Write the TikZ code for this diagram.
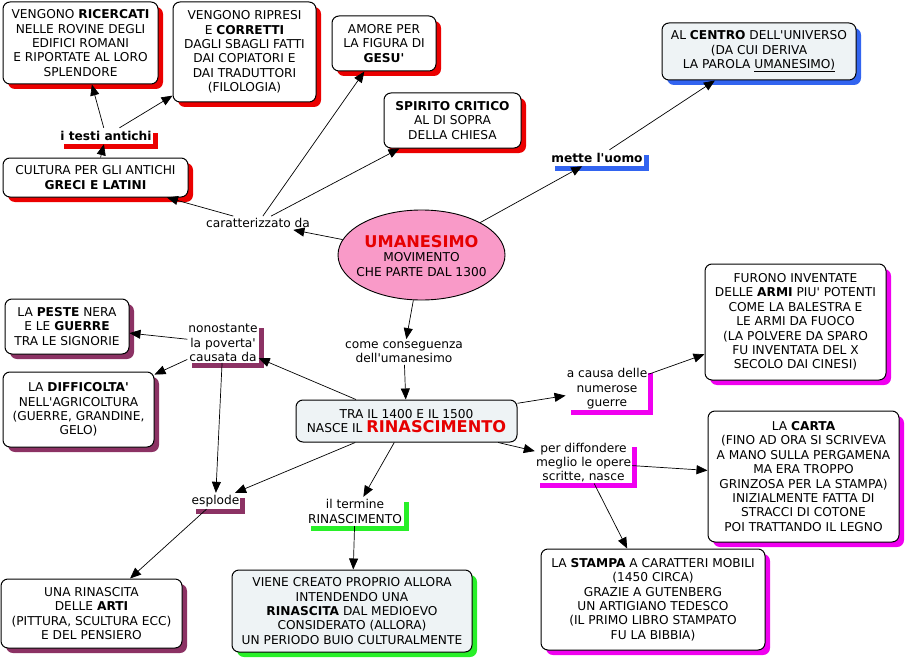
\documentclass[tikz,border=0pt]{standalone}
\usepackage{fontspec}
\setmainfont{DejaVu Sans}[Ligatures=TeXOff]
\usetikzlibrary{arrows.meta,shadows,shapes.geometric}
\definecolor{shred}{RGB}{235,0,0}
\definecolor{shpurple}{RGB}{140,50,100}
\definecolor{shgreen}{RGB}{40,240,40}
\definecolor{shmagenta}{RGB}{240,0,240}
\definecolor{shblue}{RGB}{50,100,240}
\definecolor{lightfill}{RGB}{238,243,245}
\definecolor{pinkfill}{RGB}{249,154,200}
\definecolor{titlered}{RGB}{230,0,0}
\newcommand\bigred[1]{{\fontsize{16.2}{18}\selectfont\bfseries\color{titlered}#1}}
\tikzset{
 base/.style={align=center, font=\fontsize{12.2}{14.4}\selectfont, inner sep=1pt},
 box/.style={base, draw=black, line width=1pt, rounded corners=7pt, fill=white},
 sh/.style={drop shadow={shadow xshift=5pt, shadow yshift=-5pt, fill=#1, opacity=1}},
 lbl/.style={base, fill=white},
 conn/.style={-{Triangle[length=11pt,width=9pt]}, line width=0.7pt}
}
\begin{document}
\begin{tikzpicture}[x=1pt,y=-1pt]
\useasboundingbox (0,0) rectangle (907,658);
% boxes
\node[box, sh=shred, minimum width=155pt, minimum height=82pt] (ric) at (80.5,43) {VENGONO \textbf{RICERCATI}\\NELLE ROVINE DEGLI\\EDIFICI ROMANI\\E RIPORTATE AL LORO\\SPLENDORE};
\node[box, sh=shred, minimum width=143pt, minimum height=100pt] (cor) at (244.5,52) {VENGONO RIPRESI\\E \textbf{CORRETTI}\\DAGLI SBAGLI FATTI\\DAI COPIATORI E\\DAI TRADUTTORI\\(FILOLOGIA)};
\node[box, sh=shred, minimum width=104pt, minimum height=55pt] (gesu) at (384,43.5) {AMORE PER\\LA FIGURA DI\\\textbf{GESU'}};
\node[box, sh=shred, minimum width=137pt, minimum height=55pt] (spir) at (452.5,120.5) {\textbf{SPIRITO CRITICO}\\AL DI SOPRA\\DELLA CHIESA};
\node[box, fill=lightfill, sh=shblue, minimum width=194pt, minimum height=57pt] (centro) at (759,51.5) {AL \textbf{CENTRO} DELL'UNIVERSO\\(DA CUI DERIVA\\LA PAROLA \underline{UMANESIMO)}};
\node[lbl, sh=shred, minimum width=90pt, minimum height=16pt] (testi) at (106,136) {\textbf{i testi antichi}};
\node[box, sh=shred, minimum width=185pt, minimum height=39pt] (cultura) at (95.5,177.5) {CULTURA PER GLI ANTICHI\\\textbf{GRECI E LATINI}};
\node[base, inner sep=2pt] (caratt) at (258,223) {caratterizzato da};
\node[ellipse, draw=black, line width=0.9pt, fill=pinkfill, minimum width=167pt, minimum height=90pt, inner sep=0pt] (uman) at (421.5,255) {};
\node[base] (umantext) at (421.5,256) {\bigred{UMANESIMO}\\MOVIMENTO\\CHE PARTE DAL 1300};
\node[lbl, sh=shblue, minimum width=90pt, minimum height=16pt] (mette) at (597,158) {\textbf{mette l'uomo}};
\node[base, inner sep=2pt] (come) at (404,352) {come conseguenza\\dell'umanesimo};
\node[box, fill=lightfill, minimum width=221pt, minimum height=42pt] (rin) at (406.5,421) {TRA IL 1400 E IL 1500\\NASCE IL \bigred{RINASCIMENTO}};
\node[lbl, sh=shpurple, minimum width=70pt, minimum height=38pt] (nonost) at (223,343) {nonostante\\la poverta'\\causata da};
\node[box, sh=shpurple, minimum width=124pt, minimum height=55pt] (peste) at (67,326.5) {LA \textbf{PESTE} NERA\\E LE \textbf{GUERRE}\\TRA LE SIGNORIE};
\node[box, sh=shpurple, minimum width=151pt, minimum height=75pt] (diff) at (78.5,409.5) {LA \textbf{DIFFICOLTA'}\\NELL'AGRICOLTURA\\(GUERRE, GRANDINE,\\GELO)};
\node[lbl, sh=shpurple, minimum width=47pt, minimum height=16pt] (esplode) at (215.5,501) {esplode};
\node[box, sh=shpurple, minimum width=181pt, minimum height=69pt] (arti) at (91.5,613.5) {UNA RINASCITA\\DELLE \textbf{ARTI}\\(PITTURA, SCULTURA ECC)\\E DEL PENSIERO};
\node[lbl, sh=shgreen, minimum width=98pt, minimum height=29pt] (termine) at (355,511.5) {il termine\\RINASCIMENTO};
\node[box, fill=lightfill, sh=shgreen, minimum width=240pt, minimum height=82pt] (viene) at (352,611) {VIENE CREATO PROPRIO ALLORA\\INTENDENDO UNA\\\textbf{RINASCITA} DAL MEDIOEVO\\CONSIDERATO (ALLORA)\\UN PERIODO BUIO CULTURALMENTE};
\node[lbl, sh=shmagenta, minimum width=82pt, minimum height=40pt] (acausa) at (607,389) {a causa delle\\numerose\\guerre};
\node[box, sh=shmagenta, minimum width=181pt, minimum height=116pt] (armi) at (795.5,322) {FURONO INVENTATE\\DELLE \textbf{ARMI} PIU' POTENTI\\COME LA BALESTRA E\\LE ARMI DA FUOCO\\(LA POLVERE DA SPARO\\FU INVENTATA DEL X\\SECOLO DAI CINESI)};
\node[lbl, sh=shmagenta, minimum width=95pt, minimum height=41pt] (perdiff) at (583.5,462.5) {per diffondere\\meglio le opere\\scritte, nasce};
\node[box, sh=shmagenta, minimum width=191pt, minimum height=131pt] (carta) at (803.5,476.5) {LA \textbf{CARTA}\\(FINO AD ORA SI SCRIVEVA\\A MANO SULLA PERGAMENA\\MA ERA TROPPO\\GRINZOSA PER LA STAMPA)\\INIZIALMENTE FATTA DI\\STRACCI DI COTONE\\POI TRATTANDO IL LEGNO};
\node[box, sh=shmagenta, minimum width=224pt, minimum height=101pt] (stampa) at (653,599.5) {LA \textbf{STAMPA} A CARATTERI MOBILI\\(1450 CIRCA)\\GRAZIE A GUTENBERG\\UN ARTIGIANO TEDESCO\\(IL PRIMO LIBRO STAMPATO\\FU LA BIBBIA)};
% connectors
\draw[conn] (testi) -- (ric);
\draw[conn] (testi) -- (cor);
\draw[conn] (cultura) -- (testi);
\draw[conn] (caratt) -- (cultura);
\draw[conn] (caratt) -- (gesu);
\draw[conn] (caratt) -- (spir);
\draw[conn] (uman) -- (caratt);
\draw[conn] (uman) -- (mette);
\draw[conn] (mette) -- (centro);
\draw[conn] (uman) -- (come);
\draw[conn] (come) -- (rin);
\draw[conn] (rin) -- (nonost);
\draw[conn] (nonost) -- (peste);
\draw[conn] (nonost) -- (diff);
\draw[conn] (nonost) -- (esplode);
\draw[conn] (rin) -- (esplode);
\draw[conn] (esplode) -- (arti);
\draw[conn] (rin) -- (termine);
\draw[conn] (termine) -- (viene);
\draw[conn] (rin) -- (acausa);
\draw[conn] (acausa) -- (armi);
\draw[conn] (rin) -- (perdiff);
\draw[conn] (perdiff) -- (carta);
\draw[conn] (perdiff) -- (stampa);
\end{tikzpicture}
\end{document}
